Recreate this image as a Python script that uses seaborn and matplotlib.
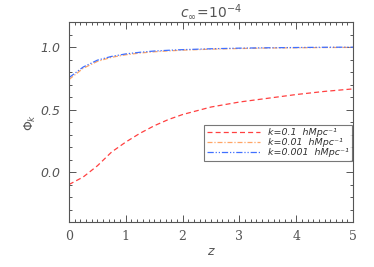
import numpy as np
import pandas as pd
import seaborn as sns
import matplotlib.pyplot as plt
from matplotlib.ticker import MultipleLocator

# valores
z = [0.0, 0.25, 0.5, 0.75, 1.0, 1.25, 1.5, 1.75, 2.0, 2.5, 3.0, 3.5, 4.0, 4.5, 5.0]
phi_01 = [-0.10, -0.04, 0.05, 0.16, 0.24, 0.31, 0.37, 0.42, 0.46, 0.52, 0.56, 0.59, 0.62, 0.645, 0.665]
phi_001 = [0.74, 0.83, 0.885, 0.918, 0.938, 0.952, 0.962, 0.969, 0.975, 0.983, 0.988, 0.992, 0.994, 0.996, 0.997]
phi_0001 = [0.755, 0.84, 0.895, 0.925, 0.945, 0.958, 0.968, 0.974, 0.979, 0.986, 0.991, 0.994, 0.996, 0.998, 0.999]

etiquetas = ["k=0.1  hMpc⁻¹", "k=0.01  hMpc⁻¹", "k=0.001  hMpc⁻¹"]
colores = ["#ff4040", "#ffa565", "#4070ff"]
estilos = [(4, 2.5), (4, 1.5, 1, 1.5), (5, 1.5, 1, 1.5, 1, 1.5)]

sns.set_style("ticks")
gris = "#555555"
plt.rcParams.update({
    "axes.edgecolor": gris,
    "xtick.color": gris,
    "ytick.color": gris,
    "text.color": gris,
    "axes.labelcolor": gris,
})

fig = plt.figure(figsize=(3.74, 2.67), dpi=100)
ax = fig.add_axes([0.1845, 0.1685, 0.7595, 0.749])

for serie, lab, col, dash in zip([phi_01, phi_001, phi_0001], etiquetas, colores, estilos):
    df = pd.DataFrame({"z": z, "phi": serie})
    sns.lineplot(data=df, x="z", y="phi", ax=ax, color=col, linewidth=0.9,
                 label=lab, dashes=False)
    ax.lines[-1].set_dashes(dash)

ax.set_xlim(0, 5)
ax.set_ylim(-0.4, 1.2)
ax.xaxis.set_major_locator(MultipleLocator(1))
ax.xaxis.set_minor_locator(MultipleLocator(0.1))
ax.yaxis.set_major_locator(MultipleLocator(0.5))
ax.yaxis.set_minor_locator(MultipleLocator(0.1))
ax.tick_params(which="both", direction="in", top=True, right=True, width=0.7)
ax.tick_params(which="major", length=5, labelsize=9, pad=6)
ax.tick_params(which="minor", length=2.5)
for s in ax.spines.values():
    s.set_linewidth(0.8)

ax.set_yticklabels([f"{v:.1f}" for v in ax.get_yticks()], style="italic")
for t in ax.get_xticklabels():
    t.set_family("DejaVu Serif")

ax.set_xlabel("$z$", fontsize=9, labelpad=1)
ax.set_ylabel(r"$\Phi_k$", fontsize=9, labelpad=2)
ax.set_title(r"$c_\infty\!=\!10^{-4}$", fontsize=10, pad=4, color=gris)

leg = ax.legend(loc="lower right", bbox_to_anchor=(1.0, 0.30), fontsize=6.8,
                frameon=True, fancybox=False, edgecolor=gris, handlelength=5.6,
                labelspacing=0.12, borderpad=0.35, handletextpad=0.8,
                borderaxespad=0.15)
leg.get_frame().set_linewidth(0.8)
for t in leg.get_texts():
    t.set_style("italic")
    t.set_color("#333333")

plt.savefig("out.png", dpi=100)
